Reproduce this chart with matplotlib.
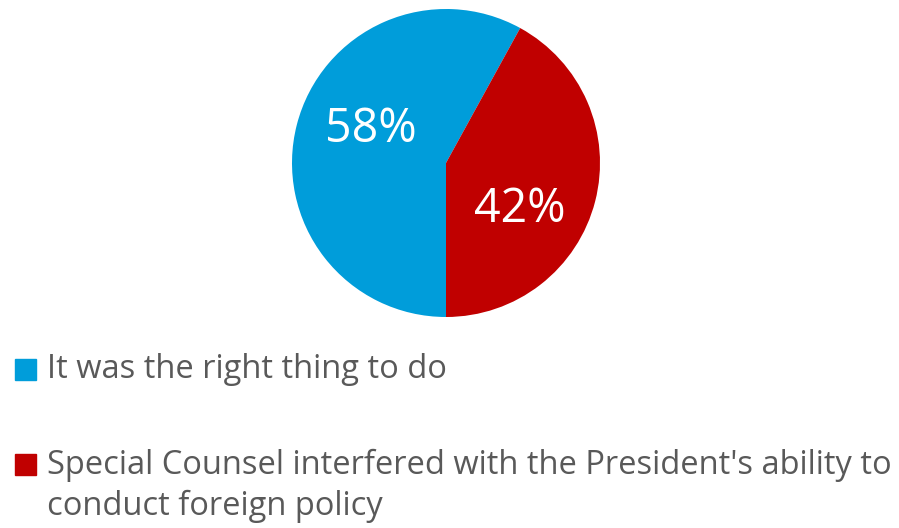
import matplotlib.pyplot as plt
from matplotlib.patches import Rectangle

plt.rcParams['font.family'] = ['Open Sans', 'DejaVu Sans']

labels = ["It was the right thing to do",
          "Special Counsel interfered with the President's ability to\nconduct foreign policy"]
values = [58, 42]
colors = ['#009DDA', '#C00000']

W, H = 899, 528
fig = plt.figure(figsize=(W / 100, H / 100), dpi=100)

# pie axes: centre (446, 163) px, radius 154 px
cx, cy, r = 446, 163, 154
ax = fig.add_axes([(cx - r) / W, 1 - (cy + r) / H, 2 * r / W, 2 * r / H])
wedges, texts, autotexts = ax.pie(values, colors=colors, startangle=270,
                                  counterclock=False, autopct='%d%%',
                                  pctdistance=0.55,
                                  textprops=dict(color='white', fontsize=33.5))
ax.set_xlim(-1, 1)
ax.set_ylim(-1, 1)
ax.set_aspect('equal')

# Excel-style label spots
autotexts[0].set_position((-0.49, 0.22))
autotexts[1].set_position((0.48, -0.30))

# legend drawn by hand
squares = [369, 464]
for col, y in zip(colors, squares):
    fig.patches.append(Rectangle((15 / W, 1 - (y + 10.5) / H), 21 / W, 21 / H,
                                 transform=fig.transFigure, color=col))

fig.text(47 / W, 1 - 369 / H, labels[0], color='#595959', fontsize=23.5,
         va='center')
fig.text(47 / W, 1 - 486 / H, labels[1], color='#595959', fontsize=23.5,
         va='center', linespacing=1.3)

fig.savefig('out.png', dpi=100)
